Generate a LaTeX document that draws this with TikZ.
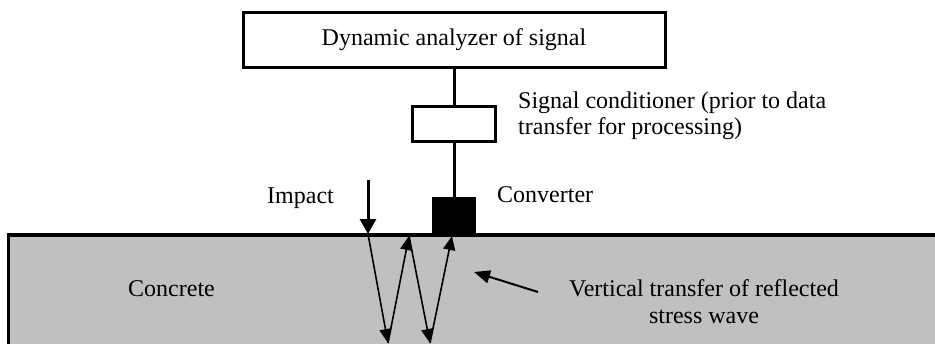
\documentclass[tikz,border=0pt]{standalone}
\usepackage{fontspec}
\setmainfont{Liberation Serif}
\usetikzlibrary{arrows.meta}
\definecolor{concrete}{RGB}{192,192,192}
\begin{document}
\begin{tikzpicture}[x=1pt,y=-1pt,
  lbl/.style={font=\fontsize{24}{28}\selectfont, inner sep=0pt},
  thickline/.style={line width=3pt},
  wave/.style={line width=1.6pt, -{Triangle[length=14pt,width=12pt]}},
  boxstyle/.style={draw, line width=3pt, fill=white}]
\useasboundingbox (0,0) rectangle (935,343);
\clip (0,0) rectangle (935,343);
% concrete block
\filldraw[fill=concrete, line width=3.5pt] (8.5,400) -- (8.5,235) -- (960,235) -- (960,400);
% top box
\node[boxstyle, lbl, minimum width=422pt, minimum height=55pt, inner sep=0pt] (dyn) at (454,40) {Dynamic analyzer of signal};
% conditioner
\node[boxstyle, minimum width=83pt, minimum height=35pt, inner sep=0pt] (cond) at (454,124) {};
% converter
\node[fill=black, minimum width=44pt, minimum height=38pt, inner sep=0pt] (conv) at (454,216) {};
\draw[thickline] (dyn.south) -- (cond.north);
\draw[thickline] (cond.south) -- (conv.north);
% impact arrow
\coordinate (istart) at (368,180);
\coordinate (ihit) at (368,234);
\draw[line width=3pt, -{Triangle[length=15pt,width=16pt]}] (istart) -- (ihit);
% W wave
\coordinate (b1) at (388,343);
\coordinate (t1) at (409,236);
\coordinate (b2) at (430,343);
\coordinate (t2) at (452,236);
\draw[wave] (ihit) -- (b1);
\draw[wave] (b1) -- (t1);
\draw[wave] (t1) -- (b2);
\draw[wave] (b2) -- (t2);
% pointer arrow
\coordinate (pstart) at (538,292);
\coordinate (pend) at (474,272);
\draw[line width=2pt, -{Triangle[length=16pt,width=13pt]}] (pstart) -- (pend);
% labels
\node[lbl, anchor=base west] (impact) at (267,203) {Impact};
\node[lbl, anchor=base west] (convl) at (497,202) {Converter};
\node[lbl, anchor=base west] (sc1) at (518,108) {Signal conditioner (prior to data};
\node[lbl, anchor=base west] (sc2) at (518,134) {transfer for processing)};
\node[lbl, anchor=base west] (concl) at (128,296) {Concrete};
\node[lbl, anchor=base] (vt1) at (704,296) {Vertical transfer of reflected};
\node[lbl, anchor=base] (vt2) at (704,323) {stress wave};
\end{tikzpicture}
\end{document}
